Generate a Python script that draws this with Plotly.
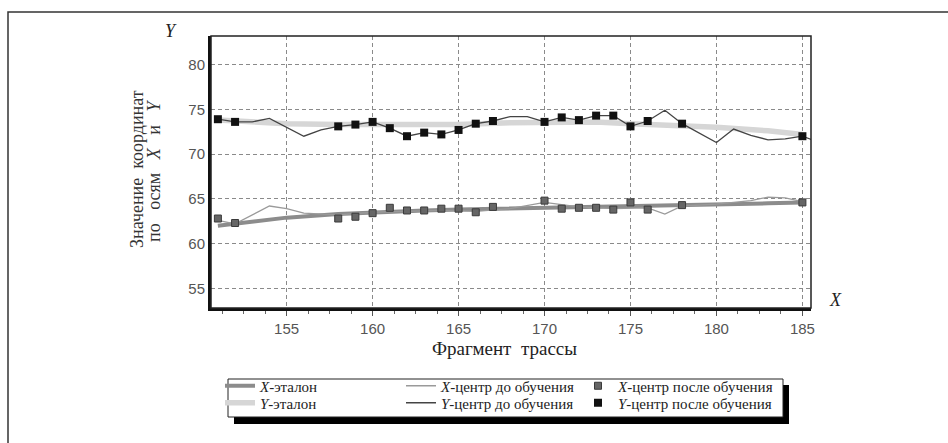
import plotly.graph_objects as go

# ---- data ----
y_etalon_x = [151, 153, 155, 158, 160, 163, 165, 168, 170, 173, 175, 178, 180, 183, 185]
y_etalon_y = [73.8, 73.6, 73.4, 73.3, 73.3, 73.2, 73.3, 73.5, 73.6, 73.6, 73.4, 73.2, 73.0, 72.6, 72.2]

y_before_x = [151, 152, 153, 154, 156, 157, 158, 159, 160, 161, 162, 163, 164, 165, 166, 167, 168, 169,
              170, 171, 172, 173, 174, 175, 176, 177, 178, 180, 181, 182, 183, 184, 185, 186]
y_before_y = [73.9, 73.6, 73.6, 74.0, 72.0, 72.7, 73.1, 73.3, 73.6, 72.9, 72.0, 72.4, 72.2, 72.7, 73.4, 73.7, 74.2, 74.2,
              73.6, 74.1, 73.8, 74.3, 74.3, 73.1, 73.7, 74.9, 73.4, 71.3, 72.8, 72.1, 71.6, 71.7, 72.0, 71.3]

y_after_x = [151, 152, 158, 159, 160, 161, 162, 163, 164, 165, 166, 167, 170, 171, 172, 173, 174, 175, 176, 178, 185]
y_after_y = [73.9, 73.6, 73.1, 73.3, 73.6, 72.9, 72.0, 72.4, 72.2, 72.7, 73.4, 73.7, 73.6, 74.1, 73.8, 74.3, 74.3, 73.1, 73.7, 73.4, 72.0]

x_etalon_x = [151, 153, 155, 158, 160, 163, 165, 168, 170, 173, 175, 178, 180, 183, 185]
x_etalon_y = [62.0, 62.5, 62.9, 63.3, 63.5, 63.7, 63.8, 63.9, 64.0, 64.1, 64.2, 64.3, 64.4, 64.5, 64.6]

x_before_x = [151, 152, 154, 155, 156, 158, 160, 162, 164, 166, 168, 170, 172, 174, 176, 177, 178, 180, 182, 183, 184, 185]
x_before_y = [62.6, 62.2, 64.2, 63.9, 63.4, 63.2, 63.5, 63.6, 63.7, 63.6, 63.9, 64.6, 64.1, 63.9, 64.0, 63.3, 64.2, 64.4, 64.8, 65.2, 65.1, 64.7]

x_after_x = [151, 152, 158, 159, 160, 161, 162, 163, 164, 165, 166, 167, 170, 171, 172, 173, 174, 175, 176, 178, 185]
x_after_y = [62.8, 62.3, 62.8, 63.0, 63.4, 64.0, 63.7, 63.7, 63.9, 63.9, 63.5, 64.1, 64.8, 63.9, 64.0, 64.0, 63.8, 64.6, 63.8, 64.3, 64.6]

x_ticks = [155, 160, 165, 170, 175, 180, 185]
y_ticks = [55, 60, 65, 70, 75, 80]

SERIF = "Liberation Serif, Times New Roman, serif"
SANS = "Liberation Sans, Arial, sans-serif"
NB = "\u00a0"

W, H, L, R, T, B = 948, 443, 211, 137, 36, 135
pw, ph = W - L - R, H - T - B
def px(xp):
    return (xp - L) / pw
def py(yp):
    return (H - B - yp) / ph

fig = go.Figure()
# legend rows: X series on top, Y series below; third column in its own legends
fig.add_trace(go.Scatter(x=x_etalon_x, y=x_etalon_y, mode="lines", name="<i>X</i>-эталон", legend="legend",
                         line=dict(color="#8c8c8c", width=4)))
fig.add_trace(go.Scatter(x=x_before_x, y=x_before_y, mode="lines", name="<i>X</i>-центр до обучения", legend="legend",
                         line=dict(color="#9a9a9a", width=1.3)))
fig.add_trace(go.Scatter(x=x_after_x, y=x_after_y, mode="markers", name="<i>X</i>-центр после обучения", legend="legend3",
                         marker=dict(symbol="square", size=7, color="#666666", line=dict(color="#3a3a3a", width=1))))
fig.add_trace(go.Scatter(x=y_etalon_x, y=y_etalon_y, mode="lines", name="<i>Y</i>-эталон", legend="legend2",
                         line=dict(color="#d6d6d6", width=5.5)))
fig.add_trace(go.Scatter(x=y_before_x, y=y_before_y, mode="lines", name="<i>Y</i>-центр до обучения", legend="legend2",
                         line=dict(color="#444444", width=1.3)))
fig.add_trace(go.Scatter(x=y_after_x, y=y_after_y, mode="markers", name="<i>Y</i>-центр после обучения", legend="legend4",
                         marker=dict(symbol="square", size=8, color="#111111")))

grid = dict(showgrid=True, gridcolor="#8a8a8a", griddash="4px,3px", gridwidth=1)

fig.update_xaxes(range=[150.6, 185.5], tickvals=x_ticks, ticktext=[str(t) for t in x_ticks],
                 showline=True, linecolor="#111111", linewidth=3, zeroline=False,
                 ticks="outside", ticklen=5, tickcolor="#555555", tickwidth=1,
                 minor=dict(dtick=1.25, tick0=150, ticks="outside", ticklen=3, tickcolor="#666666", showgrid=False),
                 tickfont=dict(family=SANS, size=15, color="#555555"), **grid)
fig.update_yaxes(range=[52.8, 83.2], tickvals=y_ticks, ticktext=[str(t) for t in y_ticks],
                 showline=True, linecolor="#111111", linewidth=3, zeroline=False, ticks="",
                 tickfont=dict(family=SANS, size=15, color="#555555"), **grid)

leg_common = dict(orientation="h", xanchor="left", yanchor="middle", entrywidth=136, itemwidth=30,
                  bgcolor="rgba(0,0,0,0)", borderwidth=0,
                  font=dict(family=SERIF, size=15, color="#222222"))
leg_single = dict(orientation="h", xanchor="left", yanchor="middle", itemwidth=30,
                  bgcolor="rgba(0,0,0,0)", borderwidth=0,
                  font=dict(family=SERIF, size=15, color="#222222"))

fig.update_layout(
    width=W, height=H,
    margin=dict(l=L, r=R, t=T, b=B, autoexpand=False),
    paper_bgcolor="white", plot_bgcolor="white",
    showlegend=True,
    legend=dict(x=px(220), y=py(386), **leg_common),
    legend2=dict(x=px(220), y=py(403), **leg_common),
    legend3=dict(x=px(578), y=py(386), **leg_single),
    legend4=dict(x=px(578), y=py(403), **leg_single),
    annotations=[
        dict(text="Значение" + NB * 2 + "координат", x=px(137), y=py(169), xref="paper", yref="paper",
             xanchor="center", yanchor="middle", textangle=-90, showarrow=False,
             font=dict(family=SERIF, size=18, color="#333333")),
        dict(text="по" + NB * 3 + "осям" + NB * 3 + "<i>X</i>" + NB * 3 + "и" + NB * 3 + "<i>Y</i>",
             x=px(154), y=py(171), xref="paper", yref="paper",
             xanchor="center", yanchor="middle", textangle=-90, showarrow=False,
             font=dict(family=SERIF, size=18, color="#333333")),
        dict(text="<i>Y</i>", x=px(171), y=py(31), xref="paper", yref="paper", showarrow=False,
             xanchor="center", yanchor="middle",
             font=dict(family=SERIF, size=18, color="#222222")),
        dict(text="<i>X</i>", x=px(835), y=py(300), xref="paper", yref="paper", showarrow=False,
             xanchor="center", yanchor="middle",
             font=dict(family=SERIF, size=18, color="#222222")),
        dict(text="Фрагмент" + NB * 2 + "трассы", x=px(504), y=py(348), xref="paper", yref="paper",
             xanchor="center", yanchor="middle", showarrow=False,
             font=dict(family=SERIF, size=19, color="#222222")),
    ],
)

# plot frame (top/right thinner), outer frame, legend box with shadow
fig.add_shape(type="rect", xref="paper", yref="paper", x0=0, x1=1, y0=0, y1=1,
              line=dict(color="#222222", width=1.5), layer="above")
fig.add_shape(type="rect", xref="paper", yref="paper", x0=px(8), x1=px(955), y0=py(450), y1=py(12),
              line=dict(color="#333333", width=1.5), layer="below")
fig.add_shape(type="rect", xref="paper", yref="paper", x0=px(234), x1=px(789), y0=py(424), y1=py(385),
              line=dict(width=0), fillcolor="#000000", layer="above")
fig.add_shape(type="rect", xref="paper", yref="paper", x0=px(228), x1=px(783), y0=py(417), y1=py(379),
              line=dict(color="#222222", width=1), fillcolor="#ffffff", layer="above")

fig.write_html("out.html", config={"displayModeBar": False},
               post_script="document.body.style.margin='0px';document.body.style.overflow='hidden';")
